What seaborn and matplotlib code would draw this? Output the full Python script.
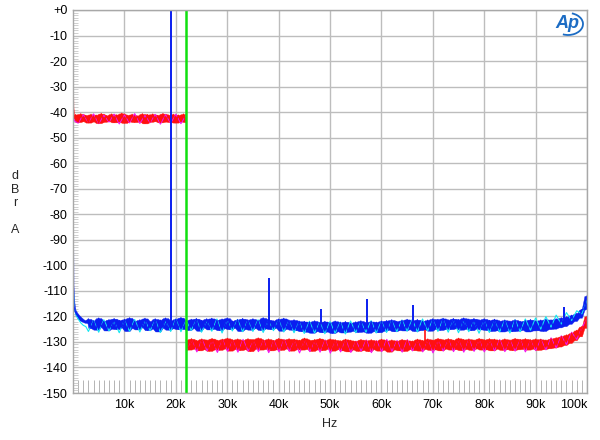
import numpy as np
import pandas as pd
import matplotlib
matplotlib.use("Agg")
import matplotlib.pyplot as plt
from matplotlib.patches import Arc
from matplotlib.ticker import MultipleLocator, FixedLocator
import seaborn as sns

# --- dados (freq em kHz, nível em dBr A) ---

# canal azul / ciano (ruído de fundo com tom de 19 kHz)
blue_onset_f = [0, 0.05, 0.1, 0.2, 0.35, 0.5, 0.8, 1.2, 1.7, 2.3, 2.8]
blue_onset_db = [-90, -108, -113, -116, -117.5, -118.5, -119.5, -120.5, -121.5, -122, -122.5]
blue_band = [
    -121.0, -124.6, -121.8, -125.2, -120.7, -124.1, -122.0, -125.5, -121.3, -124.8,
    -120.9, -125.0, -121.6, -124.3, -121.2, -125.7, -120.6, -124.5, -121.9, -125.1,
    -121.4, -124.2, -120.8, -125.4, -122.1, -124.7, -121.0, -125.9, -121.5, -124.4,
    -120.7, -125.2, -121.8, -124.6, -121.1, -125.0, -120.5, -124.9, -121.7, -125.3,
    -121.2, -124.5, -120.9, -125.6, -121.6, -124.3, -121.0, -125.1, -120.8, -124.8,
    -121.5, -125.4, -121.1, -124.6, -120.7, -125.0, -121.9, -124.4, -121.3, -125.7,
    -120.9, -124.9, -121.4, -125.2, -121.0, -124.5, -121.7, -125.3, -120.6, -124.7,
    -121.3, -125.0, -121.8, -124.4, -121.1, -125.6, -120.8, -124.8, -121.5, -125.2,
    -121.4, -125.4, -121.9, -125.8, -122.0,
    -126.0, -122.3, -126.4, -121.8, -125.7, -122.5, -126.2, -122.0, -125.9, -122.6,
    -126.5, -121.9, -125.8, -122.4, -126.3, -122.1, -126.0, -122.7, -125.6, -122.2,
    -126.1, -121.8, -125.9, -122.5, -126.4, -122.0, -125.7, -122.3, -126.2, -121.9,
    -125.6, -121.7, -125.2, -121.4, -125.8, -122.0, -125.3, -121.6, -125.5, -121.2,
    -125.0, -121.8, -125.7, -121.3, -125.4, -121.9, -125.1, -121.5, -125.6, -121.0,
    -124.8, -121.2, -125.3, -120.8, -124.9, -121.4, -125.0, -120.9, -124.6, -121.3,
    -125.2, -120.7, -124.8, -121.1, -125.4, -120.9, -124.7, -121.4, -125.1, -121.0,
    -125.3, -121.6, -125.7, -121.2, -125.4, -121.8, -125.9, -121.5, -125.5, -121.9,
    -125.8, -121.4, -125.6, -122.0, -125.2, -121.7, -125.9, -121.3, -125.5, -121.8,
    -125.4, -121.5, -125.7, -121.2,
    -125.0, -121.4, -124.8, -121.0, -124.3, -120.6, -123.8, -120.2, -122.9, -119.6,
    -121.8, -118.9, -120.5, -117.4, -117.0, -112.0,
]
blue_spike_f = [19.0, 38.1, 48.2, 57.2, 66.2, 95.6]
blue_spike_top = [0, -105, -117, -113, -115.5, -116.5]

cyan_onset_f = [0, 0.05, 0.15, 0.3, 0.6, 1.0, 1.5, 2.0, 2.5]
cyan_onset_db = [-89, -107, -114, -117, -119.5, -121, -122.5, -123.5, -124]
cyan_band = [
    -125.9, -121.6, -126.2, -121.3, -125.7, -122.0, -126.4, -121.5, -125.8, -121.2,
    -126.1, -121.7, -125.6, -121.4, -126.3, -121.9, -125.9, -121.1, -126.0, -121.6,
    -125.5, -121.3, -126.2, -121.8, -125.8, -121.0, -126.5, -121.5, -125.7, -121.2,
    -126.0, -121.6, -125.9, -121.3, -126.3, -121.8, -125.6, -121.4, -126.1, -121.7,
    -126.4, -122.1, -126.7, -121.9, -126.5, -122.3, -126.8, -122.0, -126.6, -122.2,
    -126.9, -121.8, -126.4, -122.1, -126.2, -121.7, -126.5, -121.9, -126.3, -121.6,
    -126.0, -121.4, -125.8, -121.2, -126.1, -121.0, -125.7, -121.3, -125.9, -121.1,
    -126.2, -121.5, -126.4, -121.7, -126.0, -121.9, -126.6, -121.6, -126.3, -121.8,
    -126.1, -121.5, -126.5, -121.3, -126.0, -121.0, -125.4, -120.6, -125.0, -120.1,
    -124.2, -119.5, -123.0, -118.5, -121.6, -117.8, -119.0, -113.5,
]

# canal vermelho / magenta (-42 dB até 22 kHz, depois ruído a -131 dB)
red_onset_f = [0, 0.02, 0.08, 0.2]
red_onset_db = [-26, -38, -41.5, -42.5]
red_band_lo = [
    -41.0, -43.9, -40.7, -43.5, -41.3, -44.1, -40.9, -43.6, -41.2, -44.3,
    -40.6, -43.8, -41.4, -43.4, -40.8, -44.0, -41.1, -43.7, -40.5, -44.2,
    -41.2, -43.6, -40.9, -43.9, -41.5, -43.5, -40.7, -44.4, -41.0, -43.8,
    -40.8, -43.5, -41.3, -44.0, -40.6, -43.7, -41.1, -43.9, -40.9, -44.1,
    -41.2, -43.6, -40.8, -43.9,
]
red_band_hi = [
    -129.2, -133.0, -128.8, -132.6, -129.5, -133.3, -128.9, -132.8, -129.3, -133.5,
    -128.7, -132.9, -129.4, -133.1, -129.0, -132.5, -128.6, -133.4, -129.2, -132.7,
    -128.9, -133.2, -129.6, -132.8, -128.8, -133.6, -129.1, -132.6, -128.5, -133.0,
    -129.3, -132.7, -128.9, -133.3, -129.5, -132.9, -128.7, -133.1, -129.2, -132.5,
    -128.8, -133.4, -129.0, -132.8, -129.4, -133.0, -128.6, -132.7, -129.3, -133.5,
    -129.1, -132.9, -128.7, -133.2, -129.5, -132.6, -128.9, -133.4, -129.2, -132.8,
    -129.6, -133.3, -129.0, -133.7, -129.4, -132.9, -129.8, -133.5, -129.1, -133.1,
    -129.5, -133.6, -129.2, -132.8, -129.7, -133.4, -129.0, -133.0, -129.6, -133.8,
    -129.3, -132.9, -129.8, -133.3, -129.1, -133.5, -129.4, -132.8, -129.7, -133.2,
    -129.0, -133.4, -129.5, -132.7, -128.9, -133.1, -129.3, -132.9, -128.7, -133.3,
    -129.2, -132.6, -128.8, -133.0, -129.4, -132.8, -128.6, -133.2, -129.1, -132.7,
    -128.9, -133.1, -129.3, -132.5, -128.7, -133.0, -129.2, -132.9, -128.8, -133.3,
    -129.0, -132.6, -129.4, -133.1, -128.9, -132.8, -129.3, -133.2, -128.7, -132.9,
    -129.1, -132.7, -128.8, -133.0, -129.2, -132.6, -128.9, -133.1, -129.0, -132.8,
    -129.3,
    -132.5, -128.8, -132.2, -128.4, -131.8, -127.9, -131.2, -127.3, -130.4, -126.6,
    -129.3, -125.5, -127.8, -124.0, -124.5, -120.0,
]
red_spike_f = [68.4]
red_spike_top = [-125.3]

mag_onset_f = [0, 0.03, 0.1, 0.3]
mag_onset_db = [-27, -39, -42, -43.5]
mag_band_lo = [
    -44.3, -41.0, -44.0, -40.7, -44.5, -41.2, -43.9, -40.8, -44.6, -41.1,
    -44.2, -40.6, -44.4, -41.3, -44.1, -40.9, -44.7, -41.0, -44.3, -40.8,
    -44.5, -41.2,
]
mag_band_hi = [
    -133.6, -129.4, -133.9, -129.1, -133.5, -129.6, -134.1, -129.2, -133.7, -129.5,
    -134.0, -129.0, -133.6, -129.7, -133.8, -129.3, -134.2, -129.5, -133.9, -129.1,
    -133.7, -129.6, -134.3, -129.4, -133.8, -129.8, -134.0, -129.2, -134.4, -129.6,
    -133.9, -129.3, -134.1, -129.7, -133.6, -129.2, -134.2, -129.5, -133.8, -129.0,
    -133.7, -129.4, -134.0, -129.1, -133.5, -129.6, -133.9, -129.3, -134.3, -129.5,
    -133.6, -129.2, -133.8, -129.4, -134.0, -129.0, -133.7, -129.3, -133.9, -129.6,
    -133.5, -129.1, -133.8, -129.4, -133.6, -129.2, -133.9, -129.5, -133.4, -129.0,
    -133.1, -128.4, -132.3, -127.6, -131.0, -126.2, -129.0, -124.5, -120.8,
]

marker_f = 22.05  # linha verde
x_ticks = [10, 20, 30, 40, 50, 60, 70, 80, 90, 100]
x_labels = [f"{v}k" for v in x_ticks]
y_ticks = list(range(0, -151, -10))
y_labels = ["+0"] + [str(v) for v in y_ticks[1:]]

BLUE = "#0a1ef0"
CYAN = "#14e6f0"
RED = "#ff1010"
MAGENTA = "#f014f0"
GREEN = "#10e010"

sns.set_theme(style="white")
plt.rcParams['font.family'] = ['Liberation Sans', 'DejaVu Sans']

fig = plt.figure(figsize=(6, 4.4), dpi=100)
ax = fig.add_axes([73 / 600, 47 / 440, 514 / 600, 383 / 440])


def traco(f, db, cor, lw=0.9, preencher=True):
    """Desenha o traço e, se pedido, preenche o envelope do ruído."""
    if preencher:
        s = pd.Series(db)
        topo = s.rolling(3, center=True, min_periods=1).max()
        base = s.rolling(3, center=True, min_periods=1).min()
        ax.fill_between(f, base, topo, color=cor, lw=0.3, edgecolor=cor)
    sns.lineplot(x=f, y=db, color=cor, lw=lw, estimator=None, sort=False,
                 legend=False, ax=ax)


# magenta e vermelho
traco(mag_onset_f + list(np.linspace(1, 22, len(mag_band_lo))),
      mag_onset_db + mag_band_lo, MAGENTA, lw=0.8, preencher=False)
traco(list(np.linspace(22.1, 100, len(mag_band_hi))), mag_band_hi, MAGENTA,
      lw=0.8, preencher=False)
traco(red_onset_f + list(np.linspace(0.5, 22, len(red_band_lo))),
      red_onset_db + red_band_lo, RED)
traco(list(np.linspace(22.05, 100, len(red_band_hi))), red_band_hi, RED)
ax.vlines(red_spike_f, -131, red_spike_top, color=RED, lw=1.2)

# ciano e azul
traco(cyan_onset_f + list(np.linspace(3, 100, len(cyan_band))),
      cyan_onset_db + cyan_band, CYAN, lw=0.8, preencher=False)
traco(blue_onset_f + list(np.linspace(3, 100, len(blue_band))),
      blue_onset_db + blue_band, BLUE)
ax.vlines(blue_spike_f, -123, blue_spike_top, color=BLUE, lw=1.4)

ax.axvline(marker_f, color=GREEN, lw=1.8)

ax.set_xlim(0, 100)
ax.set_ylim(-150, 0)
ax.xaxis.set_major_locator(FixedLocator(x_ticks))
ax.set_xticklabels(x_labels)
ax.xaxis.get_majorticklabels()[-1].set_horizontalalignment("right")
ax.yaxis.set_major_locator(FixedLocator(y_ticks))
ax.set_yticklabels(y_labels)
ax.xaxis.set_minor_locator(MultipleLocator(1))
ax.yaxis.set_minor_locator(MultipleLocator(1))

ax.grid(True, which="major", color="#bdbdbd", lw=1.0)
ax.tick_params(which="major", length=0, labelsize=9, colors="black", pad=4)
ax.tick_params(axis="x", which="minor", direction="in", bottom=True,
               length=9.5, width=0.7, color="#b4b4b4")
ax.tick_params(axis="y", which="minor", direction="in", left=True,
               length=3.5, width=0.6, color="#c8c8c8")
for s in ax.spines.values():
    s.set_color("#a8a8a8")
    s.set_linewidth(1.0)
ax.set_xlabel("")
ax.set_ylabel("")

fig.text(15 / 600, 1 - 203 / 440, "d\nB\nr\n\nA", ha="center", va="center",
         fontsize=9, linespacing=1.15)
fig.text(330 / 600, 1 - 424 / 440, "Hz", ha="center", va="center", fontsize=9)

# logo Ap
fig.text(567 / 600, 1 - 24 / 440, "Ap", ha="center", va="center", fontsize=13,
         style="italic", fontweight="bold", color="#1c6cc4")
fig.add_artist(Arc((568 / 600, 1 - 24 / 440), 30 / 600, 22 / 440,
                   theta1=-110, theta2=75, transform=fig.transFigure,
                   color="#1c6cc4", lw=1.3))

fig.savefig("out.png", dpi=100)
